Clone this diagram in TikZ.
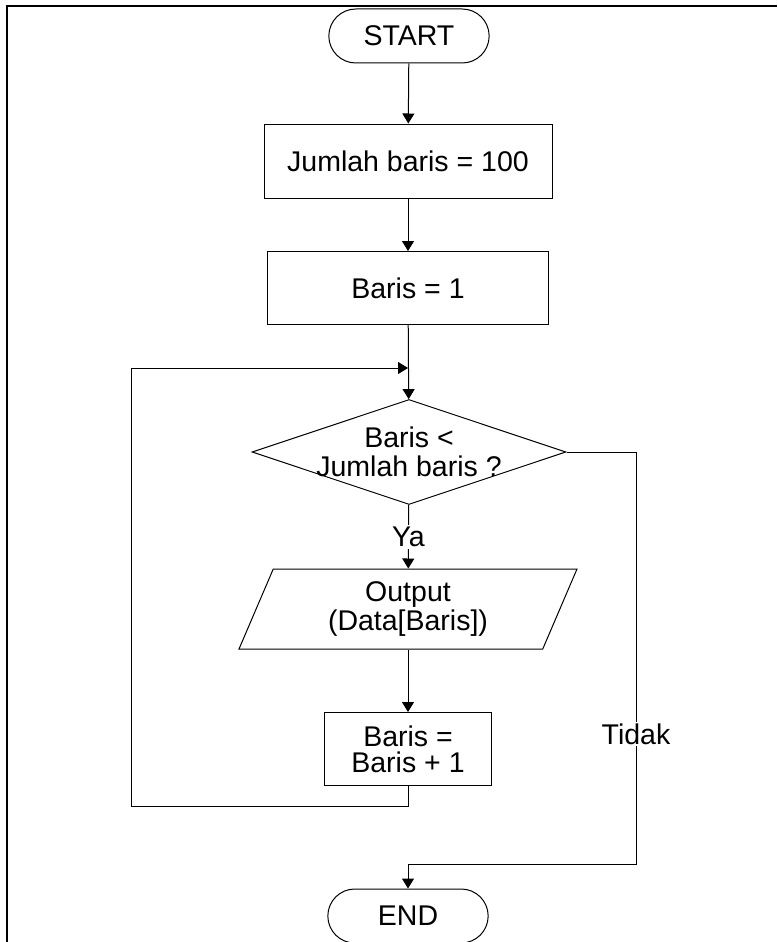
\documentclass[tikz,border=0pt]{standalone}
\usepackage{fontspec}
\setmainfont{Liberation Sans}
\usetikzlibrary{shapes.geometric, shapes.misc, arrows.meta, positioning}

\begin{document}
\begin{tikzpicture}[x=1pt, y=-1pt, line width=1pt,
    >={Triangle[length=10pt, width=12pt]},
    every node/.style={font=\fontsize{28.5}{29}\selectfont},
    term/.style={rounded rectangle, draw, minimum width=167pt, minimum height=54pt},
    box/.style={rectangle, draw, align=center, inner sep=0pt},
    decision/.style={diamond, draw, minimum width=314pt, minimum height=105pt, inner sep=0pt},
    io/.style={trapezium, trapezium left angle=58, trapezium right angle=122,
               trapezium stretches body, draw, minimum width=338pt, minimum height=80pt,
               align=center, inner sep=0pt},
    lbl/.style={fill=white, inner sep=2pt}]

    \useasboundingbox (0,0) rectangle (777,942);
    \draw[line width=2pt] (7,942) -- (7,6) -- (777,6);

    \node[term] (start) at (409,36) {START};
    \node[box, minimum width=288pt, minimum height=74pt] (jumlah) at (408,161) {Jumlah baris = 100};
    \node[box, minimum width=281pt, minimum height=73pt] (baris) at (408,288) {Baris = 1};
    \node[decision, label={[align=center]center:Baris <\\Jumlah baris ?}] (cek) at (409,452) {};
    \node[io] (output) at (408,609) {Output\\(Data[Baris])};
    \node[box, minimum width=167pt, minimum height=73pt, font=\fontsize{28.5}{26}\selectfont] (tambah) at (408,749) {Baris =\\Baris + 1};
    \node[term] (end) at (408,916) {END};

    \coordinate (masuk) at (408,368);
    \coordinate (kiri) at (131,806);
    \coordinate (kanan) at (636,864);

    \draw[->] (start) -- (jumlah);
    \draw[->] (jumlah) -- (baris);
    \draw[->] (baris) -- (cek);
    \draw[->] (cek) -- node[lbl] (ya) {Ya} (output);
    \draw[->] (output) -- (tambah);
    \draw[->] (tambah.south) |- (kiri) |- (masuk);
    \draw[->] (cek.east) -| (kanan) -| (end.north);
    \node[lbl] (tidak) at (636,734) {Tidak};
\end{tikzpicture}
\end{document}
